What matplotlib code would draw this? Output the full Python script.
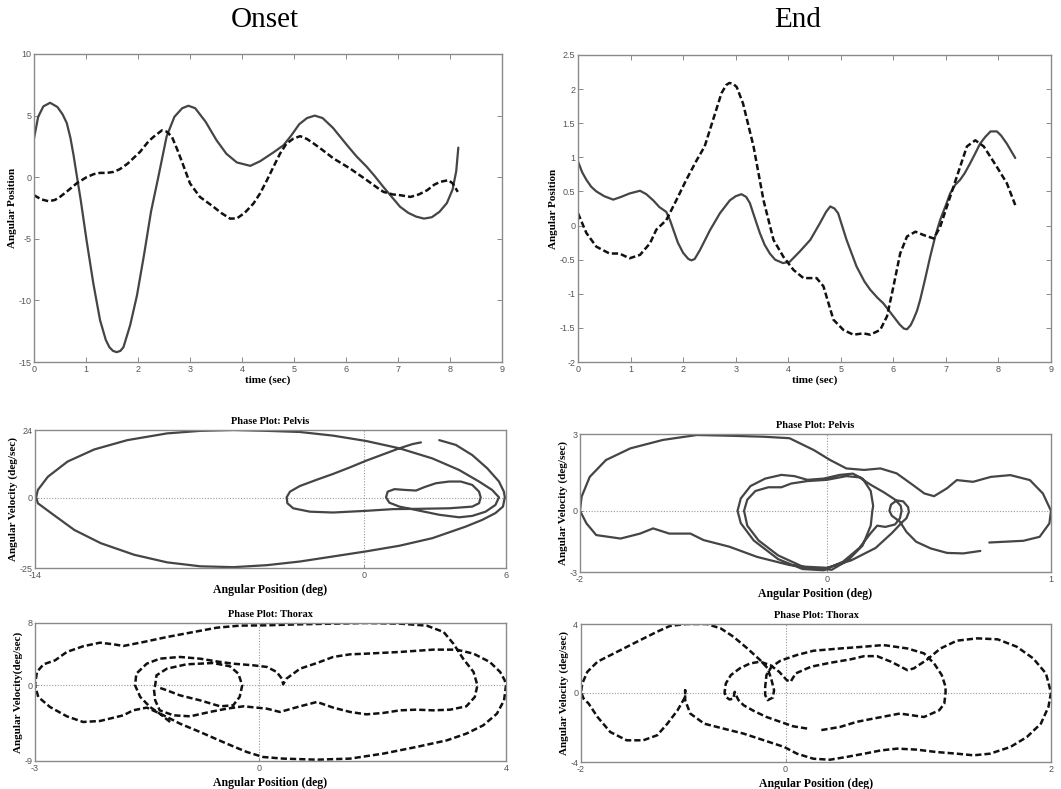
import numpy as np
import matplotlib
matplotlib.use("Agg")
import matplotlib.pyplot as plt

plt.rcParams['axes.unicode_minus'] = False

# ---- time series (Angular Position vs time) ----
onset_solid_t = [0.00, 0.08, 0.18, 0.31, 0.45, 0.55, 0.63, 0.70, 0.76, 0.82, 0.90, 1.01, 1.14, 1.27, 1.38,
                 1.45, 1.52, 1.59, 1.66, 1.72, 1.85, 1.98, 2.12, 2.25, 2.39, 2.55, 2.70, 2.85, 2.97, 3.10,
                 3.30, 3.51, 3.70, 3.90, 4.16, 4.35, 4.60, 4.80, 4.95, 5.10, 5.25, 5.40, 5.55, 5.75, 6.02,
                 6.20, 6.40, 6.55, 6.72, 6.90, 7.04, 7.20, 7.35, 7.50, 7.65, 7.80, 7.94, 8.05, 8.12, 8.16]
onset_solid_y = [3.14, 4.90, 5.75, 6.04, 5.70, 5.10, 4.40, 3.20, 1.80, 0.20, -1.90, -5.10, -8.60, -11.6, -13.2,
                 -13.8, -14.1, -14.2, -14.1, -13.8, -12.0, -9.6, -6.2, -2.8, 0.00, 3.30, 4.90, 5.60, 5.80, 5.60,
                 4.50, 3.00, 1.90, 1.20, 0.92, 1.30, 2.00, 2.60, 3.40, 4.30, 4.80, 5.00, 4.80, 4.00, 2.60,
                 1.70, 0.84, 0.10, -0.80, -1.70, -2.40, -2.90, -3.20, -3.36, -3.25, -2.80, -2.10, -1.00, 0.50, 2.40]
onset_dash_t = [0.00, 0.14, 0.28, 0.40, 0.50, 0.65, 0.82, 1.01, 1.15, 1.27, 1.40, 1.53, 1.65, 1.80, 2.04,
                2.20, 2.30, 2.46, 2.55, 2.65, 2.75, 2.85, 3.00, 3.19, 3.45, 3.60, 3.77, 3.90, 4.05, 4.22,
                4.35, 4.48, 4.60, 4.73, 4.85, 4.99, 5.12, 5.25, 5.38, 5.55, 5.76, 6.08, 6.40, 6.60, 6.72,
                6.90, 7.04, 7.24, 7.40, 7.56, 7.70, 7.81, 7.97, 8.05, 8.15]
onset_dash_y = [-1.46, -1.80, -1.95, -1.85, -1.60, -1.10, -0.50, 0.00, 0.25, 0.35, 0.35, 0.43, 0.65, 1.10, 2.06,
                2.90, 3.28, 3.80, 3.70, 3.30, 2.30, 1.20, -0.50, -1.60, -2.40, -2.90, -3.36, -3.35, -2.90, -2.14,
                -1.30, -0.24, 0.80, 1.90, 2.70, 3.14, 3.33, 3.10, 2.73, 2.20, 1.52, 0.70, -0.24, -0.85, -1.19,
                -1.40, -1.46, -1.60, -1.40, -1.06, -0.60, -0.38, -0.24, -0.50, -1.19]

end_solid_t = [0.00, 0.08, 0.16, 0.25, 0.35, 0.50, 0.67, 0.82, 0.98, 1.18, 1.30, 1.43, 1.55, 1.68, 1.75,
               1.90, 2.00, 2.10, 2.16, 2.22, 2.32, 2.51, 2.70, 2.89, 3.00, 3.11, 3.20, 3.27, 3.36, 3.46,
               3.55, 3.65, 3.75, 3.90, 4.03, 4.22, 4.42, 4.60, 4.72, 4.80, 4.88, 4.95, 5.11, 5.30, 5.45,
               5.56, 5.70, 5.81, 6.00, 6.12, 6.20, 6.26, 6.33, 6.38, 6.45, 6.51, 6.60, 6.70, 6.80, 6.89,
               7.00, 7.08, 7.18, 7.27, 7.36, 7.46, 7.56, 7.65, 7.75, 7.85, 7.97, 8.05, 8.16, 8.32]
end_solid_y = [0.94, 0.78, 0.67, 0.57, 0.50, 0.43, 0.38, 0.42, 0.47, 0.51, 0.46, 0.37, 0.27, 0.20, 0.08,
               -0.25, -0.40, -0.49, -0.51, -0.49, -0.36, -0.07, 0.18, 0.37, 0.43, 0.46, 0.42, 0.33, 0.12, -0.11,
               -0.28, -0.41, -0.50, -0.55, -0.53, -0.38, -0.21, 0.03, 0.20, 0.28, 0.25, 0.18, -0.21, -0.60, -0.82,
               -0.94, -1.06, -1.14, -1.33, -1.45, -1.51, -1.52, -1.46, -1.38, -1.25, -1.09, -0.80, -0.46, -0.15, 0.08,
               0.30, 0.47, 0.60, 0.67, 0.77, 0.91, 1.06, 1.20, 1.30, 1.38, 1.38, 1.32, 1.20, 0.99]
end_dash_t = [0.00, 0.16, 0.35, 0.60, 0.79, 0.98, 1.18, 1.37, 1.49, 1.68, 1.87, 2.06, 2.26, 2.41, 2.57,
              2.73, 2.82, 2.88, 2.95, 3.02, 3.14, 3.34, 3.53, 3.72, 3.91, 4.10, 4.29, 4.54, 4.67, 4.86,
              5.05, 5.24, 5.43, 5.56, 5.75, 5.88, 6.00, 6.13, 6.26, 6.42, 6.58, 6.77, 6.89, 7.08, 7.27,
              7.40, 7.56, 7.72, 7.97, 8.16, 8.32]
end_dash_y = [0.18, -0.11, -0.31, -0.41, -0.41, -0.48, -0.43, -0.26, -0.06, 0.08, 0.37, 0.67, 0.96, 1.16, 1.55,
              1.94, 2.06, 2.09, 2.08, 2.03, 1.79, 1.16, 0.37, -0.21, -0.46, -0.65, -0.77, -0.77, -0.89, -1.38,
              -1.53, -1.60, -1.58, -1.60, -1.53, -1.33, -0.90, -0.41, -0.16, -0.09, -0.14, -0.19, -0.02, 0.42, 0.86,
              1.16, 1.25, 1.16, 0.86, 0.62, 0.30]

# ---- phase plots: (angular position, angular velocity) ----
pelvis_onset = np.array([
    (3.20, 20.4), (3.91, 18.7), (4.61, 15.1), (5.25, 10.4), (5.75, 5.7), (5.96, 2.1), (6.00, 0.1),
    (5.92, -3.2), (5.60, -5.5), (5.04, -7.9), (4.33, -10.3), (2.91, -14.4), (1.50, -17.1), (0.08, -19.1),
    (-1.33, -20.9), (-2.75, -22.7), (-4.16, -24.0), (-5.58, -24.7), (-6.99, -24.4), (-8.41, -23.0),
    (-9.82, -20.3), (-11.24, -16.2), (-12.37, -11.5), (-13.36, -5.5), (-13.93, -2.0), (-14.0, 0.1),
    (-13.93, 2.7), (-13.50, 7.4), (-12.66, 12.8), (-11.52, 17.1), (-10.11, 20.4), (-8.41, 22.8),
    (-6.99, 23.7), (-5.58, 24.0), (-4.16, 23.7), (-2.75, 23.3), (-1.33, 22.0), (0.08, 20.1), (1.50, 17.5),
    (2.91, 13.9), (4.05, 9.8), (4.90, 5.7), (5.46, 2.7), (5.75, 0.1),
    (5.60, -2.6), (5.18, -5.0), (4.61, -6.5), (4.05, -7.0), (3.20, -6.1), (2.21, -4.4), (1.50, -3.2),
    (1.07, -1.8), (0.93, 0.1),
    (1.00, 2.1), (1.29, 3.0), (1.78, 2.7), (2.21, 2.5), (2.56, 3.7), (3.06, 5.1), (3.62, 5.7), (4.12, 5.7),
    (4.61, 4.5), (4.90, 2.1), (4.97, 0.1),
    (4.90, -2.0), (4.61, -3.2), (3.62, -3.8), (2.21, -4.0), (1.22, -4.1), (0.08, -4.7), (-1.33, -5.3),
    (-2.32, -5.0), (-3.03, -3.8), (-3.28, -2.0), (-3.31, 0.1),
    (-3.17, 2.1), (-2.75, 4.1), (-2.04, 6.3), (-1.33, 8.4), (-0.62, 10.7), (0.08, 13.1), (0.79, 15.3),
    (1.50, 17.5), (2.06, 19.0), (2.42, 19.6)])

pelvis_end = np.array([
    (0.945, -1.62), (0.84, -1.72), (0.74, -1.70), (0.64, -1.52), (0.55, -1.25), (0.49, -0.85), (0.45, -0.44),
    (0.40, -0.20), (0.385, 0.0), (0.395, 0.25), (0.43, 0.42), (0.47, 0.38), (0.50, 0.15), (0.505, -0.05),
    (0.49, -0.30), (0.465, -0.45),
    (0.40, -0.90), (0.30, -1.50), (0.15, -2.00), (0.0, -2.30), (-0.15, -2.25), (-0.30, -1.80), (-0.42, -1.20),
    (-0.49, -0.60), (-0.51, 0.0),
    (-0.49, 0.45), (-0.44, 0.80), (-0.36, 0.95), (-0.28, 0.95), (-0.22, 1.10), (-0.12, 1.20), (0.0, 1.25),
    (0.12, 1.40), (0.20, 1.35), (0.27, 1.05), (0.35, 0.75), (0.42, 0.45), (0.455, 0.20), (0.46, 0.0),
    (0.45, -0.30), (0.42, -0.55), (0.36, -0.65), (0.31, -0.60), (0.27, -0.90), (0.20, -1.50), (0.10, -2.05),
    (-0.02, -2.40), (-0.15, -2.35), (-0.30, -1.95), (-0.45, -1.20), (-0.53, -0.50), (-0.55, 0.0),
    (-0.53, 0.50), (-0.47, 1.00), (-0.38, 1.30), (-0.28, 1.45), (-0.20, 1.40), (-0.12, 1.25), (-0.02, 1.30),
    (0.08, 1.45), (0.16, 1.50), (0.22, 1.30), (0.27, 0.80), (0.285, 0.20), (0.28, 0.0),
    (0.27, -0.60), (0.22, -1.40), (0.13, -2.00), (0.03, -2.38), (-0.10, -2.30), (-0.23, -2.19), (-0.43, -1.86),
    (-0.60, -1.45), (-0.76, -1.18), (-0.84, -0.92), (-0.97, -0.92), (-1.07, -0.71), (-1.15, -0.92),
    (-1.27, -1.12), (-1.42, -0.98), (-1.48, -0.51), (-1.52, 0.0),
    (-1.51, 0.57), (-1.46, 1.37), (-1.36, 2.05), (-1.21, 2.52), (-1.01, 2.86), (-0.80, 3.06), (-0.60, 3.03),
    (-0.39, 2.99), (-0.23, 2.93), (-0.08, 2.45), (0.02, 2.05), (0.12, 1.71), (0.23, 1.65), (0.33, 1.71),
    (0.43, 1.51), (0.53, 1.04), (0.60, 0.70), (0.66, 0.59), (0.74, 0.91), (0.80, 1.24), (0.90, 1.17),
    (1.01, 1.37), (1.13, 1.44), (1.25, 1.24), (1.33, 0.70), (1.38, 0.0),
    (1.37, -0.51), (1.31, -1.05), (1.21, -1.21), (1.09, -1.25), (1.00, -1.28)])

thorax_onset = np.array([
    (-1.37, -4.47), (-1.53, -3.46), (-1.68, -2.64), (-1.83, -1.42), (-1.91, 0.0), (-1.89, 1.42), (-1.73, 2.64),
    (-1.53, 3.25), (-1.22, 3.46), (-0.91, 3.25), (-0.60, 2.85), (-0.40, 2.64), (-0.09, 2.44), (0.12, 2.24),
    (0.27, 1.63), (0.35, 0.81), (0.37, 0.12), (0.42, 0.81), (0.63, 2.03), (0.89, 2.72), (1.14, 3.46),
    (1.40, 3.78), (1.65, 3.86), (2.17, 4.07), (2.68, 4.35), (3.04, 4.35), (3.30, 3.86), (3.55, 2.85),
    (3.71, 1.63), (3.78, 0.61), (3.80, 0.0),
    (3.77, -1.83), (3.66, -3.46), (3.45, -4.88), (3.19, -5.89), (2.89, -6.71), (2.42, -7.52), (1.91, -8.33),
    (1.40, -8.94), (0.89, -9.07), (0.37, -8.94), (0.06, -8.74), (-0.19, -8.13), (-0.50, -7.11), (-0.91, -5.69),
    (-1.22, -4.67), (-1.42, -3.86), (-1.58, -3.25), (-1.73, -2.72), (-1.94, -3.05), (-2.09, -3.66),
    (-2.45, -4.35), (-2.71, -4.47), (-2.96, -3.78), (-3.22, -2.64), (-3.40, -1.42), (-3.45, 0.0),
    (-3.42, 1.63), (-3.32, 2.56), (-3.14, 3.05), (-2.96, 4.07), (-2.71, 4.76), (-2.45, 5.20), (-2.24, 5.00),
    (-2.09, 4.80), (-1.78, 5.28), (-1.42, 5.89), (-1.01, 6.50), (-0.65, 7.03), (-0.30, 7.28), (0.12, 7.32),
    (0.63, 7.44), (1.14, 7.52), (1.65, 7.60), (2.17, 7.52), (2.58, 7.28), (2.84, 6.50), (2.99, 5.08),
    (3.14, 3.25), (3.30, 1.63), (3.36, 0.0),
    (3.32, -1.42), (3.19, -2.56), (2.94, -2.97), (2.68, -3.05), (2.42, -2.97), (2.17, -3.05), (1.91, -3.37),
    (1.65, -3.54), (1.40, -3.25), (1.14, -2.72), (0.89, -2.03), (0.63, -2.56), (0.32, -3.25), (0.12, -2.85),
    (-0.24, -2.56), (-0.50, -2.85), (-0.76, -3.25), (-1.06, -3.78), (-1.32, -3.66), (-1.53, -3.05),
    (-1.60, -1.83), (-1.62, -0.41), (-1.60, 0.0),
    (-1.58, 1.22), (-1.42, 2.03), (-1.12, 2.56), (-0.71, 2.72), (-0.45, 2.32), (-0.32, 1.42), (-0.26, 0.0),
    (-0.30, -1.42), (-0.40, -2.44), (-0.60, -2.56), (-0.91, -1.83), (-1.22, -1.22), (-1.42, -0.61),
    (-1.54, -0.28)])

thorax_end = np.array([
    (0.17, -2.21), (0.06, -2.07), (-0.04, -1.80), (-0.15, -1.50), (-0.25, -1.13), (-0.33, -0.78),
    (-0.37, -0.47), (-0.39, -0.16), (-0.40, 0.04), (-0.41, -0.37), (-0.44, -0.43), (-0.47, -0.27),
    (-0.48, 0.0),
    (-0.47, 0.55), (-0.43, 1.07), (-0.36, 1.48), (-0.28, 1.78), (-0.20, 1.89), (-0.12, 1.68), (-0.05, 1.27),
    (0.01, 0.76), (0.04, 0.66), (0.08, 1.17), (0.20, 1.58), (0.35, 1.82), (0.51, 2.03), (0.62, 2.23),
    (0.72, 2.23), (0.83, 1.89), (0.96, 1.37), (1.01, 1.48), (1.11, 1.99), (1.22, 2.70), (1.35, 3.18),
    (1.51, 3.32), (1.67, 3.26), (1.82, 2.81), (1.95, 2.09), (2.05, 1.17), (2.09, 0.0),
    (2.07, -0.88), (2.01, -1.91), (1.90, -2.73), (1.77, -3.34), (1.61, -3.75), (1.48, -3.85), (1.35, -3.75),
    (1.19, -3.65), (1.03, -3.50), (0.88, -3.44), (0.75, -3.55), (0.62, -3.75), (0.48, -3.95), (0.35, -4.12),
    (0.22, -4.06), (0.09, -3.75), (-0.01, -3.34), (-0.17, -2.93), (-0.33, -2.52), (-0.49, -2.21),
    (-0.64, -1.91), (-0.75, -1.29), (-0.79, -0.47), (-0.79, 0.14), (-0.79, -0.27), (-0.85, -1.09),
    (-0.93, -1.91), (-1.01, -2.62), (-1.12, -2.93), (-1.25, -2.93), (-1.38, -2.42), (-1.48, -1.50),
    (-1.55, -0.68), (-1.59, -0.37), (-1.60, -0.16), (-1.61, 0.0),
    (-1.60, 0.55), (-1.56, 1.27), (-1.48, 1.89), (-1.35, 2.40), (-1.17, 3.11), (-1.01, 3.73), (-0.91, 4.08),
    (-0.78, 4.20), (-0.62, 4.20), (-0.51, 3.93), (-0.41, 3.42), (-0.30, 2.70), (-0.20, 1.99), (-0.14, 1.48),
    (-0.11, 0.76), (-0.09, 0.14), (-0.10, -0.31), (-0.14, -0.47), (-0.16, -0.16), (-0.16, 0.35),
    (-0.15, 1.07), (-0.11, 1.58), (-0.04, 1.95), (0.09, 2.30), (0.22, 2.56), (0.43, 2.70), (0.62, 2.81),
    (0.77, 2.91), (0.96, 2.70), (1.09, 2.40), (1.17, 1.78), (1.23, 1.07), (1.26, 0.35), (1.26, 0.0),
    (1.25, -0.68), (1.21, -1.09), (1.09, -1.50), (0.90, -1.29), (0.69, -1.60), (0.56, -1.80), (0.43, -2.11),
    (0.27, -2.32)])

# axis ranges and the rounded labels shown at the limits
pelvis_onset_lim = ((-14.05, 6.05), (-25, 24))
pelvis_onset_lbl = (['-14', '0', '6'], ['-25', '0', '24'])
pelvis_end_lim = ((-1.52, 1.38), (-2.47, 3.1))
pelvis_end_lbl = (['-2', '0', '1'], ['-3', '0', '3'])
thorax_onset_lim = ((-3.45, 3.8), (-9.23, 7.6))
thorax_onset_lbl = (['-3', '0', '4'], ['-9', '0', '8'])
thorax_end_lim = ((-1.61, 2.09), (-4.26, 4.2))
thorax_end_lbl = (['-2', '0', '2'], ['-4', '0', '4'])

W, H = 1061, 789
fig = plt.figure(figsize=(W / 100, H / 100), dpi=100)

def box(l, t, r, b):
    return [l / W, 1 - b / H, (r - l) / W, (b - t) / H]

serif = 'Liberation Serif'
sans = 'Liberation Sans'
solid_kw = dict(color='#454545', lw=1.6, solid_joinstyle='round', solid_capstyle='round')
dash_kw = dict(color='#111111', lw=1.8, ls=(0, (2.5, 1.2)))
spine_col = '#8a8a8a'

def style(ax):
    for s in ax.spines.values():
        s.set_color(spine_col)
        s.set_linewidth(1.0)
    ax.tick_params(direction='in', length=3.5, width=0.7, color=spine_col,
                   labelsize=6.5, labelcolor='#555555', top=True, right=True, pad=2)
    for lab in ax.get_xticklabels() + ax.get_yticklabels():
        lab.set_family(sans)

def series(rect, ts, ys, td, yd, ylim, yticks, ylabels):
    ax = fig.add_axes(box(*rect))
    ax.plot(ts, ys, **solid_kw)
    ax.plot(td, yd, **dash_kw)
    ax.set_xlim(0, 9)
    ax.set_ylim(*ylim)
    ax.set_xticks(range(10))
    ax.set_xticklabels([str(i) for i in range(10)])
    ax.set_yticks(yticks)
    ax.set_yticklabels(ylabels)
    ax.set_xlabel('time (sec)', family=serif, weight='bold', fontsize=8, labelpad=1)
    ax.set_ylabel('Angular Position', family=serif, weight='bold', fontsize=8, labelpad=1)
    style(ax)
    return ax

series((34, 54, 502, 362), onset_solid_t, onset_solid_y, onset_dash_t, onset_dash_y,
       (-15, 10), [-15, -10, -5, 0, 5, 10], ['-15', '-10', '-5', '0', '5', '10'])
series((578, 55, 1051, 362), end_solid_t, end_solid_y, end_dash_t, end_dash_y,
       (-2, 2.5), [-2, -1.5, -1, -0.5, 0, 0.5, 1, 1.5, 2, 2.5],
       ['-2', '-1.5', '-1', '-0.5', '0', '0.5', '1', '1.5', '2', '2.5'])

def phase(rect, data, lims, lbls, title, ylabel, kw):
    ax = fig.add_axes(box(*rect))
    (x0, x1), (y0, y1) = lims
    ax.axhline(0, color='#9a9a9a', lw=0.8, ls=(0, (1, 1.5)), zorder=0)
    ax.axvline(0, color='#9a9a9a', lw=0.8, ls=(0, (1, 1.5)), zorder=0)
    ax.plot(data[:, 0], data[:, 1], **kw)
    ax.set_xlim(x0, x1)
    ax.set_ylim(y0, y1)
    ax.set_xticks([x0, 0, x1])
    ax.set_xticklabels(lbls[0])
    ax.set_yticks([y0, 0, y1])
    ax.set_yticklabels(lbls[1])
    ax.set_title(title, family=serif, weight='bold', fontsize=7.5, pad=4)
    ax.set_xlabel('Angular Position (deg)', family=serif, weight='bold', fontsize=8.5, labelpad=3)
    ax.set_ylabel(ylabel, family=serif, weight='bold', fontsize=8, labelpad=1)
    style(ax)
    ax.tick_params(length=2, top=False, right=False)
    return ax

phase((35, 430, 506, 568), pelvis_onset, pelvis_onset_lim, pelvis_onset_lbl,
      'Phase Plot: Pelvis', 'Angular Velocity (deg/sec)', solid_kw)
phase((580, 434, 1051, 572), pelvis_end, pelvis_end_lim, pelvis_end_lbl,
      'Phase Plot: Pelvis', 'Angular Velocity (deg/sec)', solid_kw)
phase((35, 623, 506, 761), thorax_onset, thorax_onset_lim, thorax_onset_lbl,
      'Phase Plot: Thorax', 'Angular Velocity(deg/sec)', dash_kw)
phase((581, 624, 1051, 762), thorax_end, thorax_end_lim, thorax_end_lbl,
      'Phase Plot: Thorax', 'Angular Velocity (deg/sec)', dash_kw)

fig.text(265 / W, 1 - 20 / H, 'Onset', family=serif, fontsize=21, ha='center', va='center')
fig.text(798 / W, 1 - 20 / H, 'End', family=serif, fontsize=21, ha='center', va='center')

fig.savefig('out.png', dpi=100)
